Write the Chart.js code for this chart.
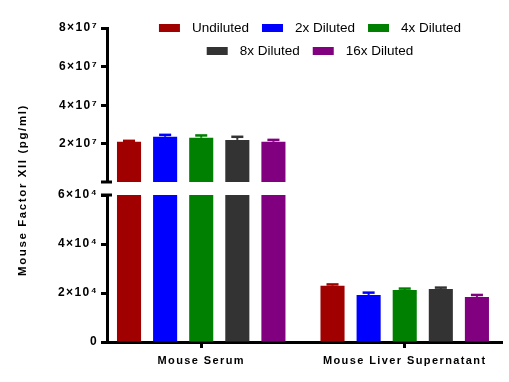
<!DOCTYPE html>
<html>
<head>
<meta charset="utf-8">
<script src="https://cdn.jsdelivr.net/npm/chart.js@4/dist/chart.umd.min.js"></script>
<style>
html,body{margin:0;padding:0;background:#fff;}
#wrap{position:relative;width:509px;height:382px;overflow:hidden;}
.layer{position:absolute;left:0;top:0;width:509px;height:382px;}
</style>
</head>
<body>
<div id="wrap">
  <div class="layer"><canvas id="bottomChart"></canvas></div>
  <div class="layer"><canvas id="topChart"></canvas></div>
</div>
<script>
// ---------------- data ----------------
const categories = ['Mouse Serum', 'Mouse Liver Supernatant'];
const seriesNames = ['Undiluted', '2x Diluted', '4x Diluted', '8x Diluted', '16x Diluted'];
const seriesColors = ['#A00000', '#0000FF', '#008000', '#333333', '#800080'];
// values per series: [Mouse Serum, Mouse Liver Supernatant] (pg/ml)
const undiluted   = [2.11e7, 2.30e4];
const diluted2x   = [2.37e7, 1.92e4];
const diluted4x   = [2.32e7, 2.12e4];
const diluted8x   = [2.21e7, 2.16e4];
const diluted16x  = [2.11e7, 1.84e4];
// upper error (SD) per series
const undilutedErr  = [0.05e7, 0.05e4];
const diluted2xErr  = [0.10e7, 0.095e4];
const diluted4xErr  = [0.12e7, 0.06e4];
const diluted8xErr  = [0.16e7, 0.06e4];
const diluted16xErr = [0.10e7, 0.08e4];
// broken axis segments
const topRange = [3e5, 8e7];
const topTickValues = [2e7, 4e7, 6e7, 8e7];
const topTickLabels = ['2×10⁷', '4×10⁷', '6×10⁷', '8×10⁷'];
const bottomRange = [0, 6e4];
const bottomTickValues = [0, 2e4, 4e4, 6e4];
const bottomTickLabels = ['0', '2×10⁴', '4×10⁴', '6×10⁴'];
const yTitle = 'Mouse Factor XII (pg/ml)';

const seriesValues = [undiluted, diluted2x, diluted4x, diluted8x, diluted16x];
const seriesErrors = [undilutedErr, diluted2xErr, diluted4xErr, diluted8xErr, diluted16xErr];

// ---------------- layout ----------------
const FONT = '"Liberation Sans", Arial, Helvetica, sans-serif';
const AXIS_X = 107;        // y-axis line position
const RIGHT_PAD = 7;
const X_MIN = -0.463, X_MAX = 1.478;

function makeDatasets() {
  return seriesNames.map((name, i) => ({
    label: name,
    data: seriesValues[i].map((v, j) => ({x: j, y: v})),
    errors: seriesErrors[i],
    backgroundColor: seriesColors[i],
    borderWidth: 0,
    clip: 0,
    categoryPercentage: 0.887,
    barPercentage: 0.667
  }));
}

function xScale(display) {
  return {
    type: 'linear', min: X_MIN, max: X_MAX, bounds: 'data', display: display, offset: false,
    afterBuildTicks: s => { s.ticks = categories.map((c, i) => ({value: i})); },
    afterFit: s => { if (display) s.height = 40; },
    grid: {display: true, offset: false, drawOnChartArea: false, drawTicks: true, tickLength: 6, tickWidth: 3, color: '#000'},
    border: {display: true, width: 3, color: '#000'},
    ticks: {
      callback: v => categories[v] !== undefined ? categories[v] : '',
      font: {family: FONT, size: 11, weight: 'bold'}, color: '#000',
      padding: 6, maxRotation: 0, minRotation: 0, autoSkip: false
    }
  };
}

function yScale(range, tv, tl) {
  return {
    type: 'linear', min: range[0], max: range[1],
    afterBuildTicks: s => { s.ticks = tv.map(v => ({value: v})); },
    afterFit: s => { s.width = AXIS_X; },
    grid: {display: true, drawOnChartArea: false, drawTicks: true, tickLength: 6, tickWidth: 3, color: '#000'},
    border: {display: true, width: 3, color: '#000'},
    ticks: {
      callback: v => { const k = tv.indexOf(v); return k >= 0 ? tl[k] : ''; },
      font: {family: FONT, size: 12, weight: 'bold'}, color: '#000', padding: 3
    }
  };
}

const spacingPlugin = {
  id: 'spacing',
  beforeDraw(chart) { chart.ctx.letterSpacing = '1.4px'; },
  afterDraw(chart) { chart.ctx.letterSpacing = '0px'; }
};

const errorBarPlugin = {
  id: 'errbars',
  afterDatasetsDraw(chart) {
    const ctx = chart.ctx, area = chart.chartArea, ys = chart.scales.y;
    ctx.save();
    ctx.beginPath();
    ctx.rect(area.left, area.top - 3, area.right - area.left, area.bottom - area.top + 3);
    ctx.clip();
    chart.data.datasets.forEach((ds, i) => {
      const meta = chart.getDatasetMeta(i);
      meta.data.forEach((bar, j) => {
        const v = ds.data[j].y, e = ds.errors[j];
        if (v > ys.max || v < ys.min) return;
        const yb = ys.getPixelForValue(v), yt = ys.getPixelForValue(v + e);
        const half = bar.width / 4;
        ctx.strokeStyle = ds.backgroundColor;
        ctx.lineWidth = 2;
        ctx.beginPath(); ctx.moveTo(bar.x, yb); ctx.lineTo(bar.x, yt); ctx.stroke();
        ctx.lineWidth = 2.5;
        ctx.beginPath(); ctx.moveTo(bar.x - half, yt); ctx.lineTo(bar.x + half, yt); ctx.stroke();
      });
    });
    ctx.restore();
  }
};

function breakCap(which) {
  return {
    id: 'breakcap',
    afterDraw(chart) {
      const ctx = chart.ctx, ys = chart.scales.y, a = chart.chartArea;
      const y = which === 'bottom' ? ys.getPixelForValue(ys.min) : ys.getPixelForValue(ys.max);
      ctx.save();
      ctx.strokeStyle = '#000'; ctx.lineWidth = 3;
      ctx.beginPath(); ctx.moveTo(a.left - 6, y); ctx.lineTo(a.left + 5, y); ctx.stroke();
      ctx.restore();
    }
  };
}

const legendPlugin = {
  id: 'customLegend',
  afterDraw(chart) {
    const ctx = chart.ctx;
    const rows = [[0, 1, 2], [3, 4]];
    const rowY = [28, 51];
    const centerX = 310, boxW = 21, boxH = 8, gapText = 12, gapItem = 13;
    ctx.save();
    ctx.letterSpacing = '0px';
    ctx.font = '13.5px ' + FONT;
    ctx.textBaseline = 'middle';
    ctx.textAlign = 'left';
    rows.forEach((row, r) => {
      const widths = row.map(i => boxW + gapText + ctx.measureText(chart.data.datasets[i].label).width);
      const total = widths.reduce((s, w) => s + w, 0) + gapItem * (row.length - 1);
      let x = centerX - total / 2;
      row.forEach((i, k) => {
        const ds = chart.data.datasets[i];
        ctx.fillStyle = ds.backgroundColor;
        ctx.fillRect(x, rowY[r] - boxH / 2, boxW, boxH);
        ctx.fillStyle = '#000';
        ctx.fillText(ds.label, x + boxW + gapText, rowY[r] + 0.5);
        x += widths[k] + gapItem;
      });
    });
    ctx.restore();
  }
};

const yTitlePlugin = {
  id: 'yTitle',
  afterDraw(chart) {
    const ctx = chart.ctx;
    ctx.save();
    ctx.letterSpacing = '1.6px';
    ctx.font = 'bold 11.5px ' + FONT;
    ctx.fillStyle = '#000';
    ctx.textAlign = 'center';
    ctx.textBaseline = 'middle';
    ctx.translate(23, 190);
    ctx.rotate(-Math.PI / 2);
    ctx.fillText(yTitle, 0, 0);
    ctx.restore();
  }
};

const common = {
  responsive: true,
  maintainAspectRatio: false,
  animation: false,
  devicePixelRatio: 1,
  plugins: {legend: {display: false}, tooltip: {enabled: false}, title: {display: false}}
};

new Chart(document.getElementById('bottomChart'), {
  type: 'bar',
  data: {datasets: makeDatasets()},
  options: Object.assign({}, common, {
    layout: {padding: {top: 195, bottom: 0, left: 0, right: RIGHT_PAD}},
    scales: {
      x: xScale(true),
      y: yScale(bottomRange, bottomTickValues, bottomTickLabels)
    }
  }),
  plugins: [spacingPlugin, errorBarPlugin, breakCap('top'), yTitlePlugin]
});

new Chart(document.getElementById('topChart'), {
  type: 'bar',
  data: {datasets: makeDatasets()},
  options: Object.assign({}, common, {
    layout: {padding: {top: 28, bottom: 200, left: 0, right: RIGHT_PAD}},
    scales: {
      x: xScale(false),
      y: yScale(topRange, topTickValues, topTickLabels)
    }
  }),
  plugins: [spacingPlugin, errorBarPlugin, breakCap('bottom'), legendPlugin]
});
</script>
</body>
</html>
